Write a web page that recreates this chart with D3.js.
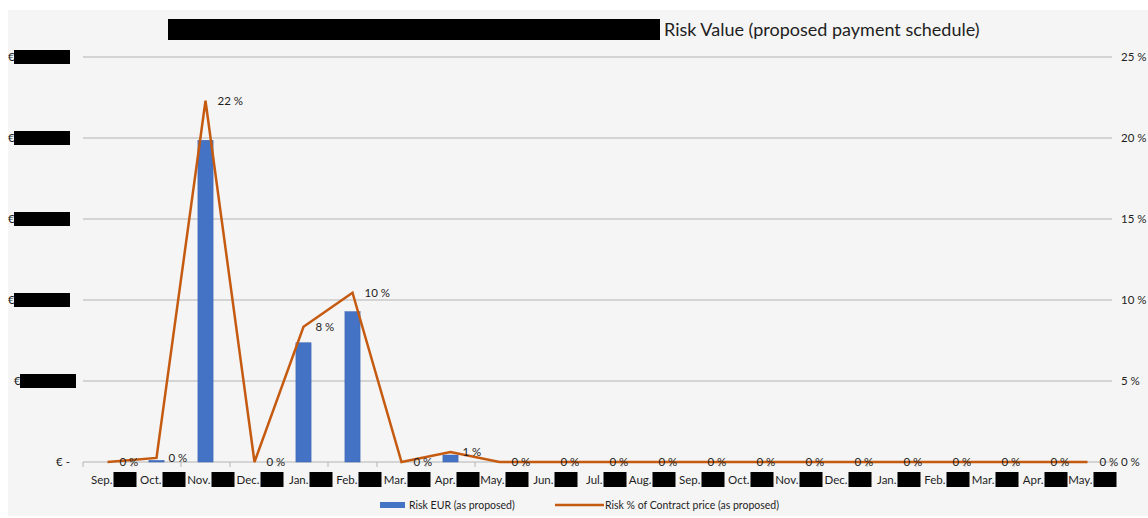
<!DOCTYPE html>
<html><head><meta charset="utf-8">
<script src="https://cdn.jsdelivr.net/npm/d3@7/dist/d3.min.js"></script>
<style>
body{margin:0;background:#fff;}
svg text{font-family:Lato,"Open Sans",sans-serif;fill:#1e1e1e;}
</style></head>
<body><svg id="chart" width="1148" height="518"></svg>
<script>
const months = ["Sep.","Oct.","Nov.","Dec.","Jan.","Feb.","Mar.","Apr.","May.","Jun.","Jul.","Aug.","Sep.","Oct.","Nov.","Dec.","Jan.","Feb.","Mar.","Apr.","May."];
// Risk EUR (redacted amounts; expressed in left-axis units where axis top = 25)
const riskEUR = [0,0.1,19.86,0,7.36,9.28,0,0.43,0,0,0,0,0,0,0,0,0,0,0,0,0];
// Risk % of contract price
const riskPct = [0,0.25,22.3,0,8.35,10.45,0,0.62,0,0,0,0,0,0,0,0,0,0,0,0,0];
const rightTicks = [0,5,10,15,20,25];
const leftTickLabels = ["€ -","€","€","€","€","€"];
const titleText = "Risk Value (proposed payment schedule)";
const legendLabels = ["Risk EUR (as proposed)","Risk % of Contract price (as proposed)"];

const svg = d3.select("#chart");
const barColor = "#4472C4", lineColor = "#C55A11", gridColor = "#b4b4b4";

svg.append("rect").attr("x",8).attr("y",10).attr("width",1140).attr("height",506).attr("fill","#f5f5f5");

const x = d3.scaleBand().domain(d3.range(months.length)).range([83,1112]).padding(0);
const yL = d3.scaleLinear().domain([0,25]).range([462,57]);
const yR = d3.scaleLinear().domain([0,25]).range([462,57]);
const cx = i => x(i) + x.bandwidth()/2;

// title
svg.append("rect").attr("x",168).attr("y",19).attr("width",492).attr("height",21).attr("fill","#000");
svg.append("text").attr("x",664).attr("y",36).attr("font-size",18).text(titleText);

// gridlines
svg.append("g").selectAll("line").data(rightTicks).join("line")
  .attr("x1",83).attr("x2",1112).attr("y1",d=>yR(d)).attr("y2",d=>yR(d))
  .attr("stroke",gridColor).attr("stroke-width",1.2);

// x ticks
svg.append("g").selectAll("line").data(d3.range(months.length+1)).join("line")
  .attr("x1",i=>83+i*x.step()).attr("x2",i=>83+i*x.step())
  .attr("y1",462).attr("y2",467).attr("stroke",gridColor);

// right axis labels
svg.append("g").selectAll("text").data(rightTicks).join("text")
  .attr("x",1121).attr("y",d=>yR(d)+4).attr("font-size",11.5)
  .text(d=>d+" %");

// left axis labels
const lg = svg.append("g");
leftTickLabels.forEach((t,i)=>{
  const yy = yL(rightTicks[i]);
  if(i===0){
    lg.append("text").attr("x",70).attr("y",yy+4).attr("font-size",11.5).attr("text-anchor","end").text(t);
  } else {
    const off = i===1 ? 6 : 0;
    lg.append("text").attr("x",8+off).attr("y",yy+4).attr("font-size",11.5).text(t);
    lg.append("rect").attr("x",14+off).attr("y",yy-7).attr("width",56).attr("height",14).attr("fill","#000");
  }
});

// x labels
const xl = svg.append("g");
months.forEach((m,i)=>{
  xl.append("text").attr("x",cx(i)+5).attr("y",484).attr("font-size",11.5).attr("text-anchor","end").text(m);
  xl.append("rect").attr("x",cx(i)+6).attr("y",472).attr("width",23).attr("height",15).attr("fill","#000");
});

// bars
const bw = x.bandwidth()*0.31;
svg.append("g").selectAll("rect").data(riskEUR).join("rect")
  .attr("x",(d,i)=>cx(i)-bw/2).attr("width",bw)
  .attr("y",d=>yL(d)).attr("height",d=>462-yL(d))
  .attr("fill",barColor).attr("stroke","#3a62b0").attr("stroke-width",0.5);

// line
const line = d3.line().x((d,i)=>cx(i)).y(d=>yR(d));
svg.append("path").datum(riskPct).attr("d",line).attr("fill","none")
  .attr("stroke",lineColor).attr("stroke-width",2.5).attr("stroke-linejoin","miter");

// data labels
svg.append("g").selectAll("text").data(riskPct).join("text")
  .attr("x",(d,i)=>cx(i)+12).attr("y",d=>yR(d)+4).attr("font-size",11.5)
  .text(d=>Math.round(d)+" %");

// legend
svg.append("rect").attr("x",380).attr("y",502).attr("width",25).attr("height",6).attr("fill",barColor);
svg.append("text").attr("x",409).attr("y",509).attr("font-size",10.5).text(legendLabels[0]);
svg.append("line").attr("x1",555).attr("x2",604).attr("y1",505).attr("y2",505).attr("stroke",lineColor).attr("stroke-width",2.5);
svg.append("text").attr("x",605).attr("y",509).attr("font-size",10.5).text(legendLabels[1]);
</script></body></html>
